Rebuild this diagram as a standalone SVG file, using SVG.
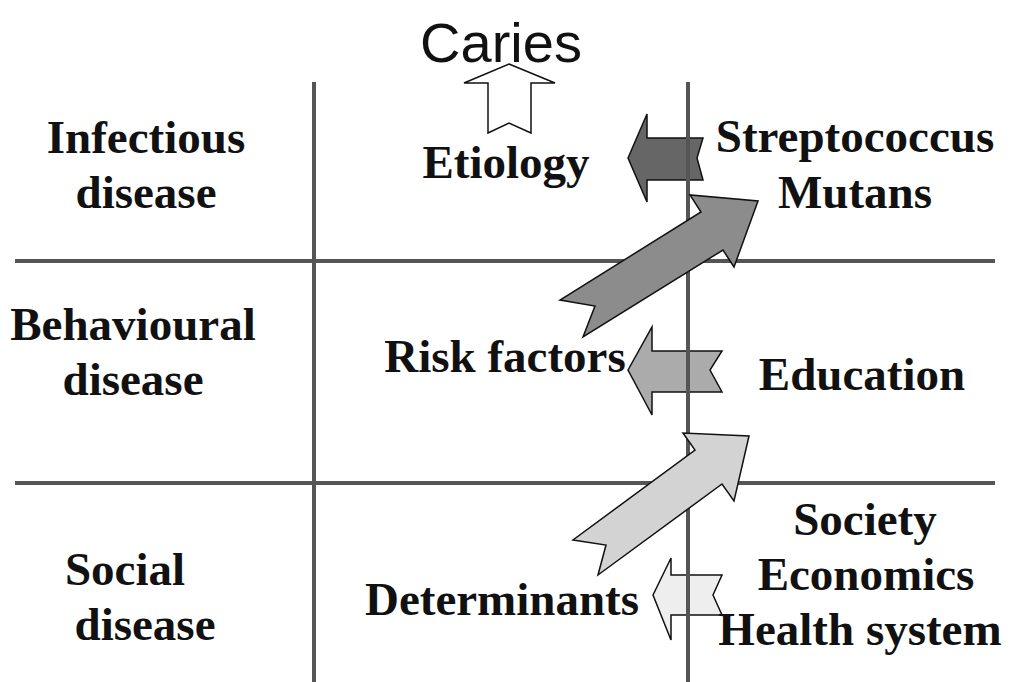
<svg xmlns="http://www.w3.org/2000/svg" width="1019" height="682" viewBox="0 0 1019 682">
<style>
.t{font-family:"Liberation Serif","Times New Roman",serif;font-weight:bold;font-size:47px;fill:#111;text-anchor:middle}
.grid{stroke:#555;stroke-width:4;fill:none}
.ar{stroke:#111;stroke-width:1.5;stroke-linejoin:miter}
</style>
<rect width="1019" height="682" fill="#fff"/>
<g id="connectors">
<polygon class="ar" fill="#fff" points="509,64 555,83 531,83 531,133 509,123 488,133 488,83 464,83"/>
<polygon class="ar" fill="#666" points="628,158 647,114 647,138 703,138 697,158 703,180 647,180 647,202"/>
<polygon class="ar" fill="#ababab" points="628,370 652,327 652,351 722,351 710,370 722,392 652,392 652,415"/>
<polygon class="ar" fill="#eeeeee" points="653,595 671,558 671,575 722,575 713,595 722,615 671,615 671,640"/>
</g>
<g id="grid">
<line class="grid" x1="314" y1="82" x2="314" y2="682"/>
<line class="grid" x1="688" y1="82" x2="688" y2="682"/>
<line class="grid" x1="15" y1="261" x2="995" y2="261"/>
<line class="grid" x1="15" y1="483" x2="995" y2="483"/>
</g>
<g id="connectors-diagonal">
<polygon class="ar" fill="#8c8c8c" points="758,201 734,267 723,250 583,337 595,306 560,300 701,212 690,195"/>
<polygon class="ar" fill="#d3d3d3" points="749,436 734,501 722,484 598,575 606,545 573,540 695,450 683,433"/>
</g>
<g id="caries"><text x="501" y="62" style="font-family:'Liberation Sans',Arial,sans-serif;font-size:56px;fill:#111;text-anchor:middle">Caries</text></g>
<g id="infectious"><text class="t" x="146" y="153">Infectious</text><text class="t" x="146" y="208">disease</text></g>
<g id="behavioural"><text class="t" x="133" y="340">Behavioural</text><text class="t" x="133" y="395">disease</text></g>
<g id="social"><text class="t" x="125" y="585">Social</text><text class="t" x="145" y="640">disease</text></g>
<g id="etiology"><text class="t" x="506" y="178">Etiology</text></g>
<g id="risk"><text class="t" x="505" y="372">Risk factors</text></g>
<g id="determinants"><text class="t" x="502" y="615">Determinants</text></g>
<g id="strep"><text class="t" x="855" y="152">Streptococcus</text><text class="t" x="855" y="208">Mutans</text></g>
<g id="education"><text class="t" x="862" y="390">Education</text></g>
<g id="society"><text class="t" x="865" y="535">Society</text><text class="t" x="866" y="590">Economics</text><text class="t" x="860" y="645">Health system</text></g>
</svg>
